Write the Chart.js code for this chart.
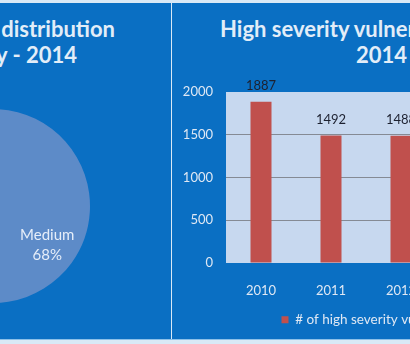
<!DOCTYPE html>
<html><head><meta charset="utf-8">
<script src="https://cdn.jsdelivr.net/npm/chart.js@4/dist/chart.umd.min.js"></script>
<style>
html,body{margin:0;padding:0;}
body{width:410px;height:344px;overflow:hidden;position:relative;background:#d9e9f6;font-family:Lato,"Open Sans",sans-serif;}
.panel{position:absolute;background:#0a6fc3;top:3px;height:336px;overflow:hidden;}
#left{left:0;width:171px;}
#right{left:172px;width:238px;}
.t{position:absolute;color:#e2edf8;font-weight:bold;font-size:22px;white-space:nowrap;line-height:22px;}
canvas{position:absolute;}
#botline{position:absolute;left:0;top:339px;width:410px;height:1px;background:#8cc0e8;}
</style></head>
<body>
<div id="left" class="panel">
  <div class="t" style="right:56px;top:14.5px;">Vulnerability distribution</div>
  <div class="t" style="right:94px;top:40.5px;">by severity - 2014</div>
  <canvas id="pie" width="356" height="204" style="left:-185px;top:101px;width:356px;height:204px;"></canvas>
</div>
<div id="right" class="panel">
  <div class="t" style="left:48px;top:14.5px;">High severity vulnerabilities 2010 -</div>
  <div class="t" style="left:9.5px;width:400px;text-align:center;top:40.5px;">2014</div>
  <canvas id="bar" width="446" height="336" style="left:1px;top:0px;width:446px;height:336px;"></canvas>
</div>
<div id="botline"></div>
<script>
// ---- data ----
const severityLabels = ['Medium', 'High', 'Low'];
const severityShares = [68, 25, 7];
const years = ['2010', '2011', '2012', '2013', '2014'];
const highCounts = [1887, 1492, 1488, 1745, 1983];
const yTicks = [0, 500, 1000, 1500, 2000];

const pieColors = ['#5d8bc8', '#c0504d', '#9bbb59'];

const pieLabelPlugin = {
  id: 'pieLabels',
  afterDatasetsDraw(chart) {
    const ctx = chart.ctx;
    const meta = chart.getDatasetMeta(0);
    ctx.save();
    ctx.fillStyle = '#e6eef9';
    ctx.font = '15px Lato, sans-serif';
    ctx.textAlign = 'center';
    ctx.textBaseline = 'middle';
    meta.data.forEach((arc, i) => {
      const p = arc.getProps(['x','y','startAngle','endAngle','outerRadius'], true);
      const mid = (p.startAngle + p.endAngle) / 2;
      const r = p.outerRadius * 0.69;
      const cx = p.x + Math.cos(mid) * r;
      const cy = p.y + Math.sin(mid) * r;
      ctx.fillText(severityLabels[i], cx, cy - 10);
      ctx.fillText(severityShares[i] + '%', cx, cy + 10);
    });
    ctx.restore();
  }
};

new Chart(document.getElementById('pie'), {
  type: 'pie',
  data: { labels: severityLabels, datasets: [{ data: severityShares, backgroundColor: pieColors, borderWidth: 0 }] },
  options: {
    responsive: false, animation: false, devicePixelRatio: 1,
    rotation: 3.5, radius: 97,
    layout: { padding: 0 },
    plugins: { legend: { display: false }, tooltip: { enabled: false } }
  },
  plugins: [pieLabelPlugin]
});

const plotBg = {
  id: 'plotBg',
  beforeDraw(chart) {
    const a = chart.chartArea, ctx = chart.ctx;
    ctx.save();
    ctx.fillStyle = '#c7d8ef';
    ctx.fillRect(a.left, a.top, a.right - a.left, a.bottom - a.top);
    ctx.restore();
  }
};
const legendShift = {
  id: 'legendShift',
  afterLayout(chart) {
    if (chart.legend) { chart.legend.left += 8; chart.legend.right += 8; }
  }
};
const valueLabels = {
  id: 'valueLabels',
  afterDatasetsDraw(chart) {
    const ctx = chart.ctx;
    const meta = chart.getDatasetMeta(0);
    ctx.save();
    ctx.fillStyle = '#1d2130';
    ctx.font = '13px Lato, sans-serif';
    ctx.textAlign = 'center';
    ctx.textBaseline = 'middle';
    meta.data.forEach((bar, i) => {
      ctx.fillText(String(highCounts[i]), bar.x, bar.y - 16);
    });
    ctx.restore();
  }
};

const lightText = '#dfe8f4';
new Chart(document.getElementById('bar'), {
  type: 'bar',
  data: {
    labels: years,
    datasets: [{ label: '# of high severity vulnerabilities', data: highCounts, backgroundColor: '#c0504d', barPercentage: 0.3, categoryPercentage: 1 }]
  },
  options: {
    responsive: false, animation: false, devicePixelRatio: 1,
    layout: { padding: { top: 89, right: 43, bottom: 2.5, left: 0 } },
    plugins: {
      legend: { position: 'bottom', labels: { boxWidth: 7, boxHeight: 7, padding: 10, color: lightText, font: { family: 'Lato', size: 13.5 } } },
      tooltip: { enabled: false }
    },
    scales: {
      x: {
        grid: { display: false }, border: { display: false },
        ticks: { color: lightText, font: { family: 'Lato', size: 13 }, padding: 12 },
        afterFit(s) { s.height = 40; }
      },
      y: {
        min: yTicks[0], max: yTicks[yTicks.length - 1],
        afterBuildTicks(s) { s.ticks = yTicks.map(v => ({ value: v })); },
        ticks: { color: lightText, font: { family: 'Lato', size: 13 }, padding: 13, callback: v => String(v) },
        grid: { drawTicks: false, color: c => (c.tick && c.tick.value > 0 && c.tick.value < 2000) ? '#858a94' : 'rgba(0,0,0,0)' },
        border: { display: false },
        afterFit(s) { s.width = 53; }
      }
    }
  },
  plugins: [plotBg, legendShift, valueLabels]
});
</script>
</body></html>
